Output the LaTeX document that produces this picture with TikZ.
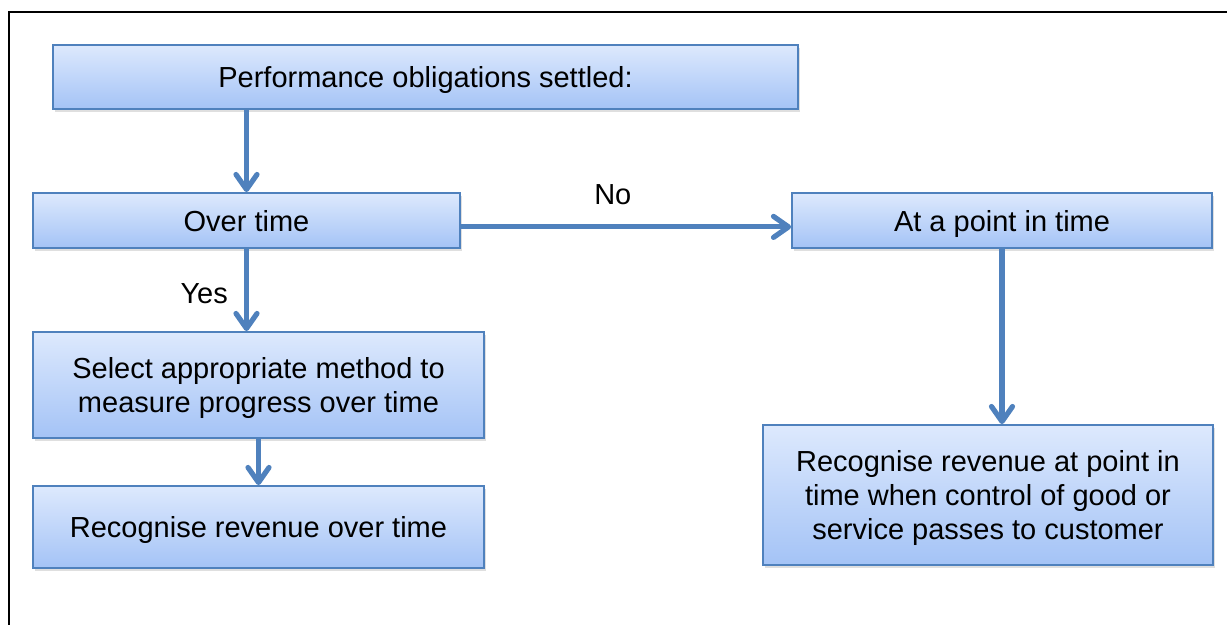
\documentclass[tikz,border=0pt]{standalone}
\usepackage{fontspec}
\setmainfont{Liberation Sans}
\usepackage{tikz}
\usetikzlibrary{arrows.meta,shadows,positioning}
\definecolor{boxtop}{HTML}{DDE9FD}
\definecolor{boxbot}{HTML}{A4C3F6}
\definecolor{boxline}{HTML}{4F81BD}

\begin{document}
\begin{tikzpicture}[x=0.5pt,y=-0.5pt,>={Straight Barb[length=7.5pt,width=10.5pt,line cap=round,line join=round]},
		font=\fontsize{14.5}{17}\selectfont]
		\tikzstyle{block}=[draw=boxline,line width=0.9pt,top color=boxtop,bottom color=boxbot,align=center,text depth=0pt,
			drop shadow={shadow xshift=0.8pt,shadow yshift=-1.6pt,opacity=0.25}]
		\tikzstyle{link}=[line width=2.6pt,every edge/.append style={draw=boxline}]
		
		\path[use as bounding box] (0,0) rectangle (1227,625);
		\draw[line width=1.1pt] (9,640) |- (1240,12);
		
		\node[block,minimum width=372.5pt,minimum height=32pt] (perf) at (425.5,77) {Performance obligations settled:};
		\node[block,minimum width=213.5pt,minimum height=27.5pt] (over) at (246.5,220.5) {Over time};
		\node[block,minimum width=210pt,minimum height=27.5pt] (point) at (1002,220.5) {At a point in time};
		\node[block,minimum width=225.5pt,minimum height=53pt] (select) at (258.5,385) {Select appropriate method to\\measure progress over time};
		\node[block,minimum width=225.5pt,minimum height=41pt] (recov) at (258.5,527) {Recognise revenue over time};
		\node[block,minimum width=225pt,minimum height=70pt] (recpt) at (988,495) {Recognise revenue at point in\\time when control of good or\\service passes to customer};
		
		\path[->,link]
		(over.north |- perf.south) edge (over.north)
		([yshift=-3.2pt]over.east) edge node[above=6.5pt,pos=0.46] {No} ([yshift=-3.2pt]point.west)
		(over.south) edge node[left=4.7pt,pos=0.55] {Yes} (over.south |- select.north);
		\path[->,link]
		(select) edge (recov)
		(point.south) edge (point.south |- recpt.north);
		\end{tikzpicture}
\end{document}
